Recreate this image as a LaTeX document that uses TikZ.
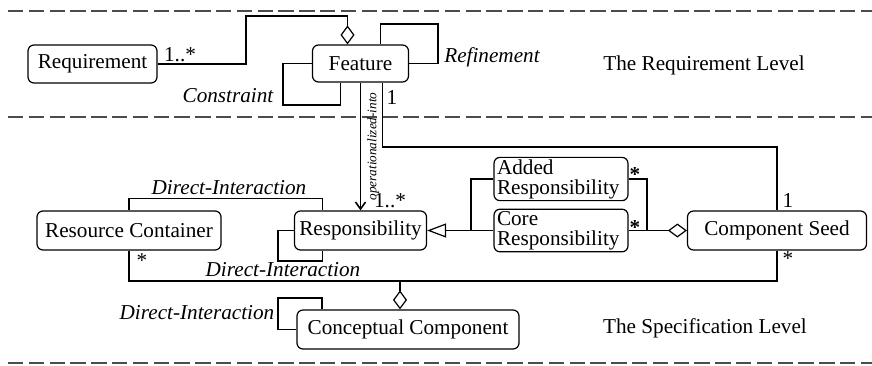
\documentclass[tikz,border=0pt]{standalone}
\usepackage{fontspec}
\setmainfont{Liberation Serif}
\newfontfamily\tms{Liberation Serif}
\usetikzlibrary{arrows.meta}

\begin{document}
\begin{tikzpicture}[x=0.5pt, y=-0.5pt, line width=0.6pt,
    cls/.style={draw, rounded corners=3pt, inner sep=1pt, font=\tms\fontsize{10.6}{10}\selectfont},
    lvl/.style={draw=black!70, line width=0.8pt, dash pattern=on 7.7pt off 2.7pt},
    lbl/.style={font=\tms\fontsize{10.6}{12}\selectfont\itshape, inner sep=0pt},
    mult/.style={font=\tms\fontsize{10.6}{12}\selectfont, inner sep=0pt},
    agg/.style={-{Diamond[open, length=9.5pt, width=7pt]}},
    gen/.style={-{Triangle[open, length=9.5pt, width=7pt]}}]
        \useasboundingbox (0,0) rectangle (872,365);
        \draw[lvl] (8,11) -- (872,11);
        \draw[lvl] (8,117) -- (872,117);
        \draw[lvl] (8,363) -- (872,363);
        \node[mult] (reqlevel) at (704,65) {The Requirement Level};
        \node[mult] (speclevel) at (705,328) {The Specification Level};

        \node[cls, minimum width=64.5pt, minimum height=19pt] (req) at (92.5,64) {Requirement};
        \node[cls, minimum width=48pt, minimum height=18.5pt] (feat) at (360.5,63.5) {Feature};
        \node[cls, minimum width=92pt, minimum height=19.5pt] (rescon) at (129,230.5) {Resource Container};
        \node[cls, minimum width=66pt, minimum height=19.5pt] (resp) at (360.5,230.5) {Responsibility};
        \node[cls, minimum width=67pt, minimum height=20.5pt, align=left, text width=64pt] (added) at (561,179) {Added\\Responsibility};
        \node[cls, minimum width=67pt, minimum height=20.5pt, align=left, text width=64pt] (core) at (561,230.5) {Core\\Responsibility};
        \node[cls, minimum width=89.5pt, minimum height=19.5pt] (seed) at (777,230.5) {Component Seed};
        \node[cls, minimum width=111pt, minimum height=19.5pt] (concomp) at (408,329.5) {Conceptual Component};

        \draw[agg] (req.east) -| (246,16) -| ([xshift=-6.5pt]feat.north);
        \node[mult] (reqm) at (180,55) {1..*};
        \draw (feat.east) -| (438,24) -| ([xshift=10pt]feat.north);
        \node[lbl] (refine) at (492,57) {Refinement};
        \draw (feat.west) -| (283,105) -| ([xshift=-10pt]feat.south);
        \node[lbl] (constr) at (228,96) {Constraint};

        \draw ([xshift=11pt]feat.south) |- (777,147) -- (seed.north);
        \node[mult] (featm) at (392,97) {1};
        \node[mult] (seedm) at (788,200) {1};

        \draw[-{Straight Barb[length=3.5pt, width=5pt]}, line width=0.8pt] (feat.south) -- (resp.north)
            node[midway, rotate=90, anchor=north, inner sep=3pt, font=\tms\fontsize{6.6}{8}\selectfont\itshape] {operationalized-into};
        \node[mult] (respm) at (390,201) {1..*};

        \draw (rescon.north) -- ++(0,-12) -| ([xshift=-19pt]resp.north);
        \node[lbl] (di1) at (229,188) {Direct-Interaction};
        \draw (resp.west) -| (278,261) -| ([xshift=-19pt]resp.south);
        \node[lbl] (di2) at (283,270) {Direct-Interaction};

        \draw[gen] (core.west) -- (resp.east);
        \draw (added.west) -| (471,230.5);
        \draw[agg] (core.east) -- (seed.west);
        \draw (added.east) -| (647,230.5);
        \node[mult, font=\tms\fontsize{10.6}{12}\selectfont\bfseries] (addm) at (635,175) {*};
        \node[mult, font=\tms\fontsize{10.6}{12}\selectfont\bfseries] (corem) at (635,227) {*};

        \coordinate (jn) at (400,281);
        \draw (rescon.south) |- (jn) -| (seed.south);
        \draw[agg] (jn) -- ([xshift=-4pt]concomp.north);
        \node[mult] (rescm) at (142,261) {*};
        \node[mult] (seedm2) at (788,259) {*};

        \draw (concomp.west) -| (278,298) -| ([xshift=-43pt]concomp.north);
        \node[lbl] (di3) at (197,313) {Direct-Interaction};
      \end{tikzpicture}
\end{document}
